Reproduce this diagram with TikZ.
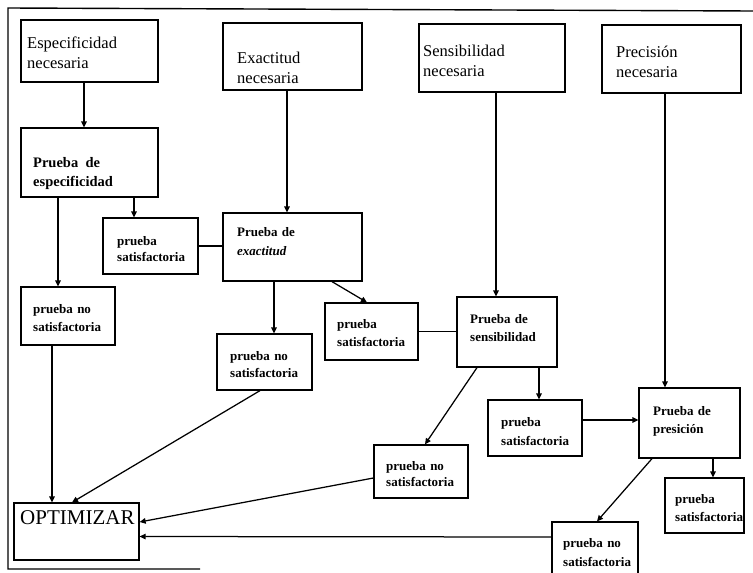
\documentclass[tikz,border=0pt]{standalone}
\usepackage{fontspec}
\setmainfont{Liberation Serif}
\usetikzlibrary{arrows.meta}
\begin{document}
\begin{tikzpicture}[x=1pt,y=-1pt,
  box/.style={draw,line width=1.25pt,inner sep=0pt},
  toptxt/.style={anchor=base west,inner sep=0pt,text width=130pt,align=left,font=\fontsize{16.5}{20}\selectfont},
  intxt/.style={anchor=base west,inner sep=0pt,text width=95pt,align=left,font=\bfseries\fontsize{13}{18}\selectfont},
  arr/.style={line width=1.25pt,-{Triangle[length=6pt,width=5.5pt]}},
  ln/.style={line width=1.25pt}]
\path[fill=white,use as bounding box] (0,0) rectangle (753,573);
% frame
\draw[line width=1.4pt] (753,11) -- (8,8) -- (8,569) -- (200,569);
% boxes
\node[box,minimum width=137pt,minimum height=62pt] (espn) at (89.5,51) {};
\node[box,minimum width=139pt,minimum height=67pt] (exn) at (292.5,56.5) {};
\node[box,minimum width=146pt,minimum height=68pt] (sensn) at (492,58) {};
\node[box,minimum width=139pt,minimum height=68pt] (precn) at (671.5,59) {};
\node[box,minimum width=137pt,minimum height=69pt] (espt) at (89.5,162.5) {};
\node[box,minimum width=95pt,minimum height=56pt] (sat1) at (150.5,246) {};
\node[box,minimum width=139pt,minimum height=68pt] (ext) at (292.5,247) {};
\node[box,minimum width=94pt,minimum height=58pt] (nos1) at (68,316) {};
\node[box,minimum width=95pt,minimum height=56pt] (nos2) at (264.5,362) {};
\node[box,minimum width=93pt,minimum height=57pt] (sat2) at (371.5,331.5) {};
\node[box,minimum width=100pt,minimum height=70pt] (senst) at (507,332) {};
\node[box,minimum width=94pt,minimum height=53pt] (nos3) at (421,471.5) {};
\node[box,minimum width=94pt,minimum height=56pt] (sat3) at (535,428) {};
\node[box,minimum width=101pt,minimum height=70pt] (prect) at (689.5,423) {};
\node[box,minimum width=79pt,minimum height=55pt] (sat4) at (704.5,505.5) {};
\node[box,minimum width=86pt,minimum height=52pt] (nos4) at (595,548) {};
\node[box,minimum width=125pt,minimum height=57pt] (opt) at (76.5,531.5) {};
% texts
\node[toptxt] (espn-t) at (27,48) {Especificidad\\necesaria};
\node[toptxt] (exn-t) at (237,63) {Exactitud\\necesaria};
\node[toptxt] (sensn-t) at (423,56) {Sensibilidad\\necesaria};
\node[toptxt] (precn-t) at (616,57) {Precisión\\necesaria};
\node[intxt,font=\bfseries\fontsize{14.5}{19}\selectfont] (espt-t) at (33,167) {Prueba\, de\\especificidad};
\node[intxt,font=\bfseries\fontsize{13}{16}\selectfont] (sat1-t) at (117,245) {prueba\\satisfactoria};
\node[intxt,font=\bfseries\fontsize{13}{19}\selectfont] (ext-t) at (237,236) {Prueba de\\\textit{exactitud}};
\node[intxt] (nos1-t) at (33,313) {prueba no\\satisfactoria};
\node[intxt,font=\bfseries\fontsize{13}{17}\selectfont] (nos2-t) at (230,360) {prueba no\\satisfactoria};
\node[intxt] (sat2-t) at (337,328) {prueba\\satisfactoria};
\node[intxt] (senst-t) at (470,323) {Prueba de\\sensibilidad};
\node[intxt,font=\bfseries\fontsize{13}{16}\selectfont] (nos3-t) at (386,470) {prueba no\\satisfactoria};
\node[intxt,font=\bfseries\fontsize{13}{19}\selectfont] (sat3-t) at (501,426) {prueba\\satisfactoria};
\node[intxt] (prect-t) at (653,415) {Prueba de\\presición};
\node[intxt] (sat4-t) at (675,503) {prueba\\satisfactoria};
\node[intxt,font=\bfseries\fontsize{13}{19}\selectfont] (nos4-t) at (563,547) {prueba no\\satisfactoria};
\node[anchor=base west,inner sep=0pt,font=\fontsize{21}{24}\selectfont] (opt-t) at (20,524) {OPTIMIZAR};
% connectors
\draw[arr] ([xshift=-5.5pt]espn.south) -- ([xshift=-5.5pt]espt.north);
\draw[arr] ([xshift=-31.5pt]espt.south) -- ([xshift=-10pt]nos1.north);
\draw[arr] ([xshift=44.5pt]espt.south) -- ([xshift=-16.5pt]sat1.north);
\draw[ln] (sat1.east) -- (sat1.east -| ext.west);
\draw[arr] ([xshift=-5.5pt]exn.south) -- ([xshift=-5.5pt]ext.north);
\draw[arr] ([xshift=-18.5pt]ext.south) -- ([xshift=9.5pt]nos2.north);
\draw[arr] ([xshift=39.5pt]ext.south) -- ([xshift=-4.5pt]sat2.north);
\draw[ln] (sat2.east) -- (sat2.east -| senst.west);
\draw[arr] ([xshift=4pt]sensn.south) -- ([xshift=-11pt]senst.north);
\draw[arr] ([xshift=-30pt]senst.south) -- ([xshift=4pt]nos3.north);
\draw[arr] ([xshift=32pt]senst.south) -- ([xshift=4pt]sat3.north);
\draw[arr] ([yshift=8pt]sat3.east) -- ([yshift=8pt]sat3.east -| prect.west);
\draw[arr] ([xshift=-6.5pt]precn.south) -- ([xshift=-24.5pt]prect.north);
\draw[arr] ([xshift=23.5pt]prect.south) -- ([xshift=8.5pt]sat4.north);
\draw[arr] ([xshift=-37.5pt]prect.south) -- ([xshift=2pt]nos4.north);
\draw[arr] ([xshift=-16pt]nos1.south) -- ([xshift=-24.5pt]opt.north);
\draw[arr] ([xshift=-4.5pt]nos2.south) -- ([xshift=-4.5pt]opt.north);
\draw[arr] ([yshift=-6.5pt]nos3.west) -- ([yshift=9.5pt]opt.east);
\draw[arr] ([yshift=11pt]nos4.west) -- ([yshift=-5pt]opt.east);
\end{tikzpicture}
\end{document}
